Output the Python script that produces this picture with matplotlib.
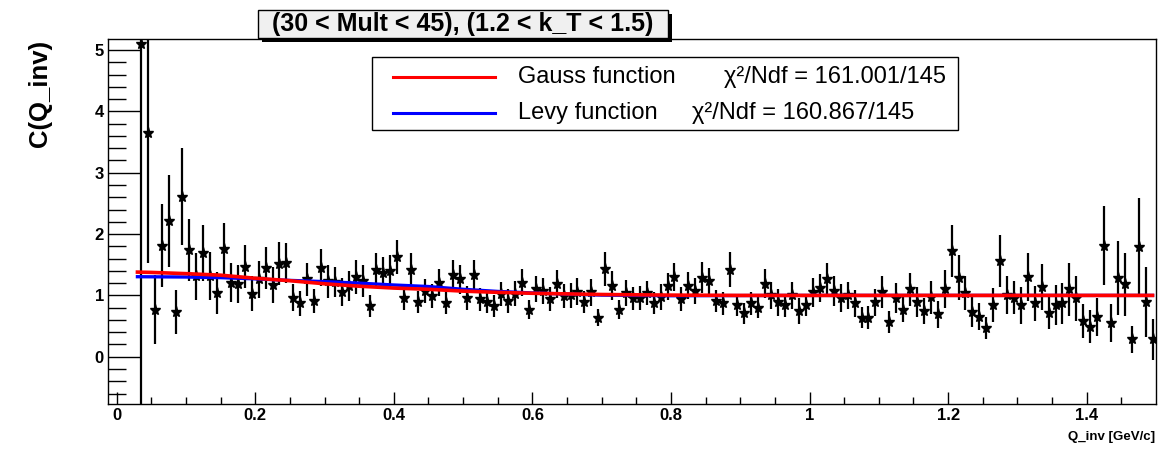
import numpy as np
import matplotlib
matplotlib.use("Agg")
import matplotlib.pyplot as plt
from matplotlib.patches import Rectangle
from matplotlib.lines import Line2D

plt.rcParams['font.family'] = ['Liberation Sans', 'DejaVu Sans']

# correlation function C(Q_inv), bins of 0.01 GeV/c starting at 0.03
bin_start = 0.03
bin_width = 0.01
c_vals = [5.10, 3.645, 0.77, 1.81, 2.21, 0.73, 2.61, 1.74, 1.31, 1.69,
          1.31, 1.04, 1.75, 1.21, 1.19, 1.47, 1.03, 1.26, 1.45, 1.17,
          1.52, 1.53, 0.96, 0.87, 1.26, 0.91, 1.45, 1.23, 1.22, 1.05,
          1.15, 1.30, 1.23, 0.83, 1.42, 1.37, 1.40, 1.63, 0.96, 1.42,
          0.89, 1.07, 0.99, 1.21, 0.87, 1.33, 1.26, 0.96, 1.33, 0.935,
          0.89, 0.83, 1.02, 0.91, 1.03, 1.21, 0.77, 1.11, 1.07, 0.94,
          1.19, 0.99, 1.00, 1.06, 0.89, 1.05, 0.64, 1.43, 1.16, 0.77,
          1.04, 0.95, 0.96, 1.04, 0.87, 0.98, 1.15, 1.30, 0.94, 1.16,
          1.07, 1.29, 1.23, 0.91, 0.87, 1.42, 0.84, 0.71, 0.87, 0.80,
          1.19, 1.00, 0.89, 0.84, 1.00, 0.745, 0.84, 1.05, 1.12, 1.26,
          1.07, 0.96, 1.00, 0.87, 0.64, 0.64, 0.89, 1.05, 0.56, 0.96,
          0.77, 1.10, 0.89, 0.745, 0.97, 0.69, 1.10, 1.72, 1.29, 1.04,
          0.73, 0.65, 0.475, 0.84, 1.56, 1.00, 0.96, 0.84, 1.30, 0.87,
          1.14, 0.71, 0.84, 0.87, 1.10, 0.95, 0.58, 0.49, 0.65, 1.81,
          0.545, 1.28, 1.18, 0.285, 1.79, 0.89, 0.285]
c_errs = [6.5, 2.11, 0.57, 0.68, 0.745, 0.36, 0.79, 0.51, 0.38, 0.46,
          0.39, 0.34, 0.43, 0.32, 0.31, 0.35, 0.28, 0.30, 0.34, 0.29,
          0.35, 0.33, 0.22, 0.20, 0.27, 0.20, 0.30, 0.27, 0.25, 0.23,
          0.24, 0.27, 0.26, 0.18, 0.27, 0.25, 0.26, 0.28, 0.19, 0.27,
          0.18, 0.20, 0.19, 0.22, 0.18, 0.24, 0.23, 0.195, 0.24, 0.19,
          0.18, 0.18, 0.20, 0.195, 0.20, 0.22, 0.16, 0.21, 0.21, 0.19,
          0.23, 0.20, 0.20, 0.22, 0.18, 0.22, 0.135, 0.28, 0.23, 0.155,
          0.21, 0.18, 0.195, 0.20, 0.18, 0.21, 0.22, 0.23, 0.19, 0.22,
          0.21, 0.25, 0.22, 0.18, 0.19, 0.28, 0.17, 0.17, 0.19, 0.17,
          0.24, 0.22, 0.22, 0.19, 0.22, 0.21, 0.18, 0.24, 0.23, 0.27,
          0.25, 0.23, 0.22, 0.22, 0.17, 0.195, 0.22, 0.26, 0.18, 0.24,
          0.21, 0.27, 0.24, 0.21, 0.27, 0.22, 0.31, 0.42, 0.37, 0.27,
          0.24, 0.22, 0.18, 0.28, 0.42, 0.31, 0.27, 0.30, 0.39, 0.29,
          0.38, 0.26, 0.33, 0.33, 0.43, 0.36, 0.28, 0.27, 0.31, 0.645,
          0.31, 0.60, 0.51, 0.22, 0.79, 0.57, 0.33]

# fitted curves
gauss_q = [0.03, 0.05, 0.10, 0.15, 0.20, 0.25, 0.30, 0.35, 0.40, 0.45,
           0.50, 0.55, 0.60, 0.65, 0.70, 0.80, 0.90, 1.00, 1.495]
gauss_c = [1.38, 1.375, 1.355, 1.33, 1.28, 1.24, 1.19, 1.15, 1.12, 1.10,
           1.07, 1.05, 1.035, 1.025, 1.015, 1.005, 1.0, 1.0, 1.0]
levy_q = [0.03, 0.10, 0.15, 0.20, 0.25, 0.30, 0.35, 0.40, 0.45, 0.50,
          0.55, 0.60, 0.70, 0.80, 0.90, 1.00, 1.495]
levy_c = [1.305, 1.30, 1.29, 1.27, 1.245, 1.225, 1.20, 1.17, 1.145, 1.10,
          1.065, 1.04, 1.005, 0.995, 0.998, 1.0, 1.0]

title = "(30 < Mult < 45), (1.2 < k_T < 1.5)"
leg_names = ["Gauss function", "Levy function"]
leg_chi2 = ["χ²/Ndf = 161.001/145", "χ²/Ndf = 160.867/145"]

W, H = 1160, 451
fig = plt.figure(figsize=(W / 100, H / 100), dpi=100)


def fx(x):
    return x / W


def fy(y):
    return 1 - y / H


ax = fig.add_axes([fx(108), fy(404), (1156 - 108) / W, (404 - 39) / H])

q = bin_start + bin_width / 2 + bin_width * np.arange(len(c_vals))
ax.errorbar(q, c_vals, yerr=c_errs, fmt='*', color='black', ms=8,
            elinewidth=1.6, capsize=0, zorder=3)
ax.plot(levy_q, levy_c, color='#0000ff', lw=2.4, zorder=4)
ax.plot(gauss_q, gauss_c, color='#ff0000', lw=2.6, zorder=5)

ax.set_xlim(-0.0125, 1.5)
ax.set_ylim(-0.77, 5.18)
ax.set_xticks(np.arange(0, 1.41, 0.2))
ax.set_xticklabels(['0', '0.2', '0.4', '0.6', '0.8', '1', '1.2', '1.4'])
ax.set_xticks(np.arange(0, 1.5, 0.05), minor=True)
ax.set_yticks(range(6))
ax.set_yticks(np.arange(-0.6, 5.1, 0.2), minor=True)

ax.tick_params(axis='y', which='major', direction='in', length=24, width=1,
               pad=3, labelsize=12)
ax.tick_params(axis='y', which='minor', direction='in', length=13, width=1)
ax.tick_params(axis='x', which='major', direction='in', length=8.6, width=1,
               pad=3, labelsize=12)
ax.tick_params(axis='x', which='minor', direction='in', length=5, width=1)
for lab in ax.get_xticklabels() + ax.get_yticklabels():
    lab.set_fontweight('bold')
for sp in ax.spines.values():
    sp.set_linewidth(1)

fig.text(fx(40), fy(40), "C(Q_inv)", rotation=90, ha='center', va='top',
         fontsize=18.5, fontweight='bold')
fig.text(fx(1155), fy(437), "Q_inv [GeV/c]", ha='right', va='center',
         fontsize=9.5, fontweight='bold')

# title box with shadow
fig.patches.append(Rectangle((fx(262), fy(42)), (410) / W, (28) / H,
                             transform=fig.transFigure, facecolor='black',
                             edgecolor='none', zorder=10))
fig.patches.append(Rectangle((fx(258), fy(38)), (410) / W, (28) / H,
                             transform=fig.transFigure, facecolor='#f0f0f0',
                             edgecolor='black', lw=1, zorder=11))
fig.text(fx(463), fy(24), title, ha='center', va='center', fontsize=18,
         fontweight='bold', zorder=12)

# legend
fig.patches.append(Rectangle((fx(372), fy(130)), (958 - 372) / W, (130 - 57) / H,
                             transform=fig.transFigure, facecolor='white',
                             edgecolor='black', lw=1, zorder=10))
leg_colors = ['#ff0000', '#0000ff']
leg_y = [77, 113]
chi_x = [724, 692]
for name, chi, col, yy, cx in zip(leg_names, leg_chi2, leg_colors, leg_y, chi_x):
    fig.lines.append(Line2D([fx(393), fx(495)], [fy(yy), fy(yy)], color=col,
                            lw=2.2, transform=fig.transFigure, zorder=11))
    fig.text(fx(518), fy(yy), name, ha='left', va='center', fontsize=17,
             zorder=12)
    fig.text(fx(cx), fy(yy), chi, ha='left', va='center', fontsize=17,
             zorder=12)

fig.savefig("out.png", dpi=100)
